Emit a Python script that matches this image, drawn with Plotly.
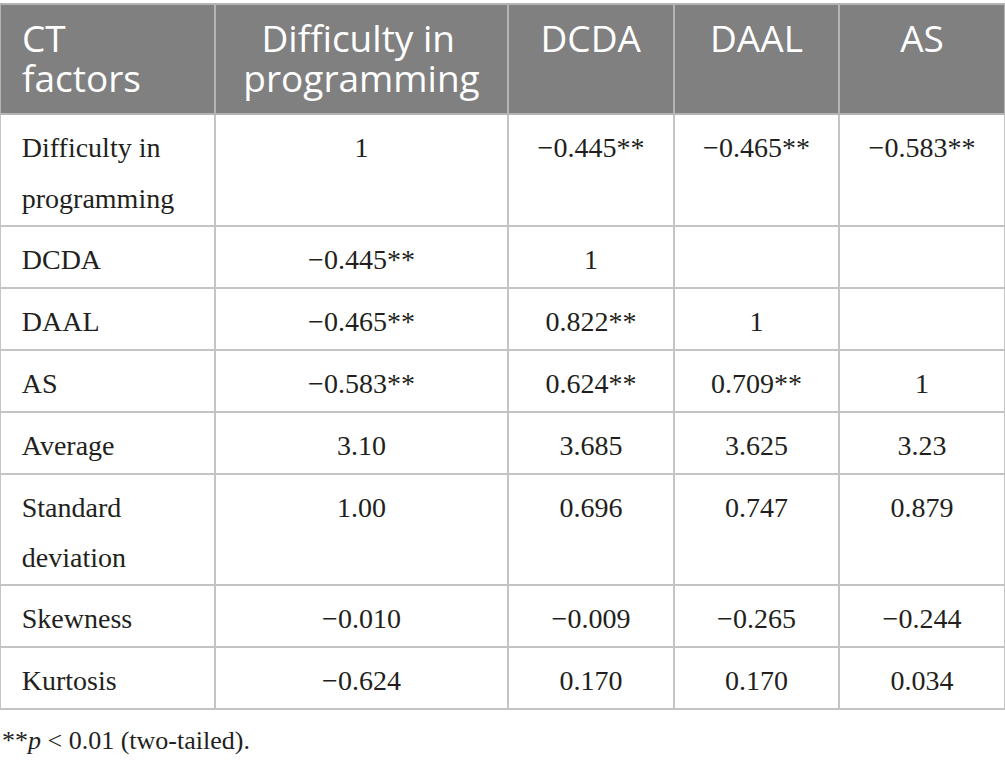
import plotly.graph_objects as go

# ========================
# Table data
# ========================
header_labels = ["CT<br>factors", "Difficulty in<br>programming", "DCDA", "DAAL", "AS"]

row_labels = [
    "Difficulty in<br>programming",
    "DCDA",
    "DAAL",
    "AS",
    "Average",
    "Standard<br>deviation",
    "Skewness",
    "Kurtosis",
]
col_difficulty = ["1", "−0.445**", "−0.465**", "−0.583**", "3.10", "1.00", "−0.010", "−0.624"]
col_dcda = ["−0.445**", "1", "0.822**", "0.624**", "3.685", "0.696", "−0.009", "0.170"]
col_daal = ["−0.465**", "", "1", "0.709**", "3.625", "0.747", "−0.265", "0.170"]
col_as = ["−0.583**", "", "", "1", "3.23", "0.879", "−0.244", "0.034"]

footnote = "**<i>p</i> < 0.01 (two-tailed)."

# ========================
# Styling helpers
# ========================
NBSP = "\u00a0"
BODY_PX = 28     # visible body text size
HEAD_PX = 37     # visible header text size


def span(txt, px):
    return f"<span style='font-size:{px}px'>{txt}</span>"


def finish(lines):
    # a <br> in every cell makes plotly parse the tags instead of word-wrapping them
    txt = "<br>".join(lines)
    return txt if len(lines) > 1 else txt + "<br>"


def body_cell(txt, align):
    """ Cell text: a base-size nbsp strut keeps the text off the top edge """
    if not txt:
        return ""
    parts = txt.split("<br>")
    lines = []
    for i, ln in enumerate(parts):
        # slightly taller strut on the last line of two-line cells
        tail = span(NBSP, 46) if (len(parts) > 1 and i == len(parts) - 1) else ""
        if align == "left":
            lines.append(NBSP + span(NBSP, 16) + span(ln, BODY_PX) + tail)
        else:
            lines.append(NBSP + span(ln, BODY_PX) + NBSP)
    return finish(lines)


def head_cell(txt, align):
    lines = []
    for i, ln in enumerate(txt.split("<br>")):
        if align == "left":
            lines.append(NBSP + span(NBSP, 23) + span(ln, HEAD_PX))
        elif i == 0 and "<br>" in txt:
            # push the shorter first line so both lines look centred
            lines.append(span(NBSP + NBSP, 35) + span(ln, HEAD_PX))
        else:
            lines.append(span(ln, HEAD_PX))
    return finish(lines)


aligns = ["left", "center", "center", "center", "center"]
columns = [row_labels, col_difficulty, col_dcda, col_daal, col_as]

fig = go.Figure(go.Table(
    columnwidth=[215, 293, 166, 165, 166],
    header=dict(
        values=[head_cell(h, a) for h, a in zip(header_labels, aligns)],
        align=aligns,
        fill_color="#808080",
        line=dict(color="#b4b4b4", width=2),
        font=dict(family="Open Sans", size=31, color="white"),
        height=110,
    ),
    cells=dict(
        values=[[body_cell(v, a) for v in col] for col, a in zip(columns, aligns)],
        align=aligns,
        fill_color="white",
        line=dict(color="#c4c4c4", width=2),
        font=dict(family="Liberation Serif", size=39, color="#231f20"),
        height=62,
    ),
    domain=dict(x=[0, 1], y=[0.03, 0.995]),
))

fig.add_annotation(
    text=footnote, xref="paper", yref="paper", x=0.0, y=0.03,
    xanchor="left", yanchor="middle", showarrow=False,
    font=dict(family="Liberation Serif", size=26, color="#231f20"),
)

fig.update_layout(
    width=1005, height=763,
    margin=dict(l=0, r=0, t=0, b=0),
    paper_bgcolor="white",
)

fig.write_html(
    "out.html",
    config={"displayModeBar": False},
    post_script="document.body.style.margin = '0';",
)
